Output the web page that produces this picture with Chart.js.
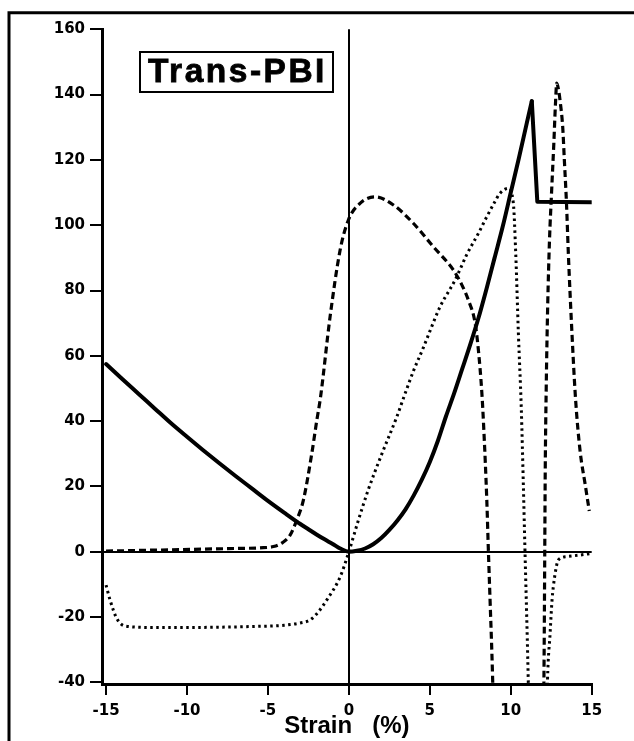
<!DOCTYPE html>
<html>
<head>
<meta charset="utf-8">
<title>Trans-PBI</title>
<script src="https://cdn.jsdelivr.net/npm/chart.js@4/dist/chart.umd.min.js"></script>
<style>
  html, body { margin: 0; padding: 0; background: #fff; }
  canvas { display: block; }
</style>
</head>
<body>
<canvas id="chart" width="634" height="741"></canvas>
<script>
// Tick values on both axes
const strainTicks = [-15, -10, -5, 0, 5, 10, 15];
const stressTicks = [-40, -20, 0, 20, 40, 60, 80, 100, 120, 140, 160];

// Solid curve: smooth part up to the peak
const solidStrainA = [-15, -14, -13, -12, -11, -10, -9, -8, -7, -6, -5, -4, -3, -2.5, -2, -1.5, -1, -0.5, 0,
  0.5, 1, 1.5, 2, 2.5, 3, 3.5, 4, 4.5, 5, 5.5, 6, 6.5, 7, 7.5, 8, 8.5, 9, 9.5, 10, 10.5, 11, 11.3];
const solidValueA = [57.5, 52.9, 48.4, 43.9, 39.4, 35.2, 31.1, 27.1, 23.2, 19.4, 15.6, 12.0, 8.5, 6.9, 5.3, 3.8, 2.4, 0.9, 0,
  0.3, 1.0, 2.3, 4.2, 6.7, 9.6, 13.0, 17.2, 22.0, 27.5, 34.0, 41.5, 48.5, 56.0, 63.5, 71.5, 80.5, 90.0, 99.5, 110.0, 120.5, 131.5, 138.0];
// Solid curve: drop after the peak and the plateau
const solidStrainB = [11.3, 11.64, 15];
const solidValueB = [138.0, 107.2, 107.0];

// Dashed curve, first branch (runs off the bottom near 8.9 %)
const dashedStrainA = [-15, -13, -11, -9, -7, -5.5, -4.66, -4.1, -3.63, -3.22, -2.81, -2.29, -1.98, -1.76, -1.16, -0.54, -0.03,
  0.69, 1.62, 2.75, 3.98, 5.22, 6.45, 7.0, 7.38, 7.8, 8.0, 8.21, 8.33, 8.52, 8.62, 8.73, 8.84, 8.92, 9.0];
const dashedValueA = [0.2, 0.4, 0.6, 0.8, 1.0, 1.2, 1.6, 2.8, 5.1, 9.7, 15.8, 30.1, 40.3, 47.0, 72.0, 92.4, 101.6,
  106.7, 108.7, 106.2, 100.6, 93.4, 86.3, 81.5, 77.1, 70.0, 61.8, 49.0, 38.0, 15.8, 0, -16, -32, -46, -60];

// Dashed curve, second branch (comes back up near 12 %)
const dashedStrainB = [12.03, 12.07, 12.1, 12.13, 12.19, 12.28, 12.39, 12.52, 12.66, 12.76, 12.84, 12.95, 13.05, 13.21, 13.31,
  13.44, 13.56, 13.77, 14.0, 14.28, 14.6, 14.85];
const dashedValueB = [-52, -25, 0, 25, 50, 75, 95, 110, 125, 137, 143.5, 141.5, 138, 130, 120,
  107, 91, 68, 47, 31, 20.5, 12.5];

// Dotted curve, first branch
const dottedStrainA = [-15, -14.75, -14.34, -13.8, -12, -10, -8, -6, -4, -3, -2.4, -1.9, -1.37, -0.54, 0,
  0.59, 1.2, 2, 2.96, 3.37, 4, 4.6, 5.0, 5.63, 6.56, 6.87, 7.28, 8.0, 8.52, 9.0, 9.34, 9.85, 10.16,
  10.31, 10.47, 10.65, 10.78, 10.88, 11.02, 11.14];
const dottedValueA = [-10.2, -14.8, -20.4, -22.8, -23.2, -23.2, -23.1, -22.9, -22.5, -21.8, -20.9, -18.5, -14.8, -7.7, 0,
  9.7, 19.0, 29.5, 41.3, 47.0, 55.5, 62.5, 67.5, 75.0, 83.2, 86.5, 91.0, 97.5, 102.6, 107.0, 109.8, 111.3, 106.7,
  91.0, 67.0, 44.0, 20.0, 0, -26.5, -52];

// Dotted curve, second branch
const dottedStrainB = [12.22, 12.27, 12.43, 12.55, 12.63, 12.8, 12.94, 13.46, 14.28, 15];
const dottedValueB = [-52, -39.3, -25, -14.8, -10.7, -5, -2.5, -1.5, -1.0, -0.5];

const toPoints = (xs, ys) => xs.map((x, i) => ({ x: x, y: ys[i] }));

const BLACK = '#000';
const tickFont = { family: 'DejaVu Sans', weight: 'bold', size: 15 };

// Left/top frame and the boxed heading
const decorations = {
  id: 'decorations',
  afterDraw(chart) {
    const ctx = chart.ctx;
    ctx.save();
    ctx.strokeStyle = BLACK;
    ctx.lineWidth = 3;
    ctx.lineJoin = 'miter';
    ctx.beginPath();
    ctx.moveTo(9, 741);
    ctx.lineTo(9, 12.7);
    ctx.lineTo(634, 12.7);
    ctx.stroke();

    ctx.lineWidth = 2;
    ctx.strokeRect(140, 52, 193, 40);

    ctx.fillStyle = BLACK;
    ctx.textBaseline = 'alphabetic';
    ctx.textAlign = 'left';
    if ('letterSpacing' in ctx) {
      ctx.font = 'bold 33.5px "Liberation Sans", Arial, sans-serif';
      ctx.letterSpacing = '2.5px';
    } else {
      ctx.font = 'bold 33px "DejaVu Sans", sans-serif';
    }
    ctx.fillText('Trans-PBI', 148, 82);
    ctx.lineWidth = 0.8;
    ctx.strokeText('Trans-PBI', 148, 82);
    ctx.restore();
  }
};

const zeroLine = c => (c.tick && c.tick.value === 0) ? BLACK : 'rgba(0,0,0,0)';

const solidStyle = { borderColor: BLACK, borderWidth: 4, borderCapStyle: 'round', borderJoinStyle: 'round', pointRadius: 0 };
const dashedStyle = { borderColor: BLACK, borderWidth: 3.2, borderDash: [7, 4], cubicInterpolationMode: 'monotone', pointRadius: 0 };
const dottedStyle = { borderColor: BLACK, borderWidth: 3, borderDash: [2.5, 3.5], cubicInterpolationMode: 'monotone', pointRadius: 0 };

new Chart(document.getElementById('chart'), {
  type: 'line',
  data: {
    datasets: [
      Object.assign({ data: toPoints(solidStrainA, solidValueA), cubicInterpolationMode: 'monotone' }, solidStyle),
      Object.assign({ data: toPoints(solidStrainB, solidValueB), tension: 0 }, solidStyle),
      Object.assign({ data: toPoints(dashedStrainA, dashedValueA) }, dashedStyle),
      Object.assign({ data: toPoints(dashedStrainB, dashedValueB) }, dashedStyle),
      Object.assign({ data: toPoints(dottedStrainA, dottedValueA) }, dottedStyle),
      Object.assign({ data: toPoints(dottedStrainB, dottedValueB) }, dottedStyle)
    ]
  },
  options: {
    responsive: false,
    animation: false,
    layout: { padding: { top: 29.3, right: 42.3, bottom: 0, left: 0 } },
    plugins: { legend: { display: false }, tooltip: { enabled: false } },
    scales: {
      x: {
        type: 'linear',
        min: -15.25,
        max: 15,
        afterBuildTicks: s => { s.ticks = strainTicks.map(v => ({ value: v })); },
        afterFit: s => { s.height = 57; },
        grid: { color: zeroLine, lineWidth: 2, tickColor: BLACK, tickLength: 11, tickWidth: 2 },
        border: { display: true, color: BLACK, width: 3 },
        ticks: { color: BLACK, font: tickFont, padding: 7, maxRotation: 0, autoSkip: false },
        title: {
          display: true,
          text: 'Strain   (%)',
          color: BLACK,
          font: { family: 'Liberation Sans', weight: 'bold', size: 24 },
          padding: { top: 0, bottom: 0 }
        }
      },
      y: {
        type: 'linear',
        min: -40.5,
        max: 160,
        afterBuildTicks: s => { s.ticks = stressTicks.map(v => ({ value: v })); },
        afterFit: s => { s.width = 102; },
        grid: { color: zeroLine, lineWidth: 2, tickColor: BLACK, tickLength: 12, tickWidth: 2 },
        border: { display: true, color: BLACK, width: 3 },
        ticks: { color: BLACK, font: tickFont, padding: 5, autoSkip: false }
      }
    }
  },
  plugins: [decorations]
});
</script>
</body>
</html>
